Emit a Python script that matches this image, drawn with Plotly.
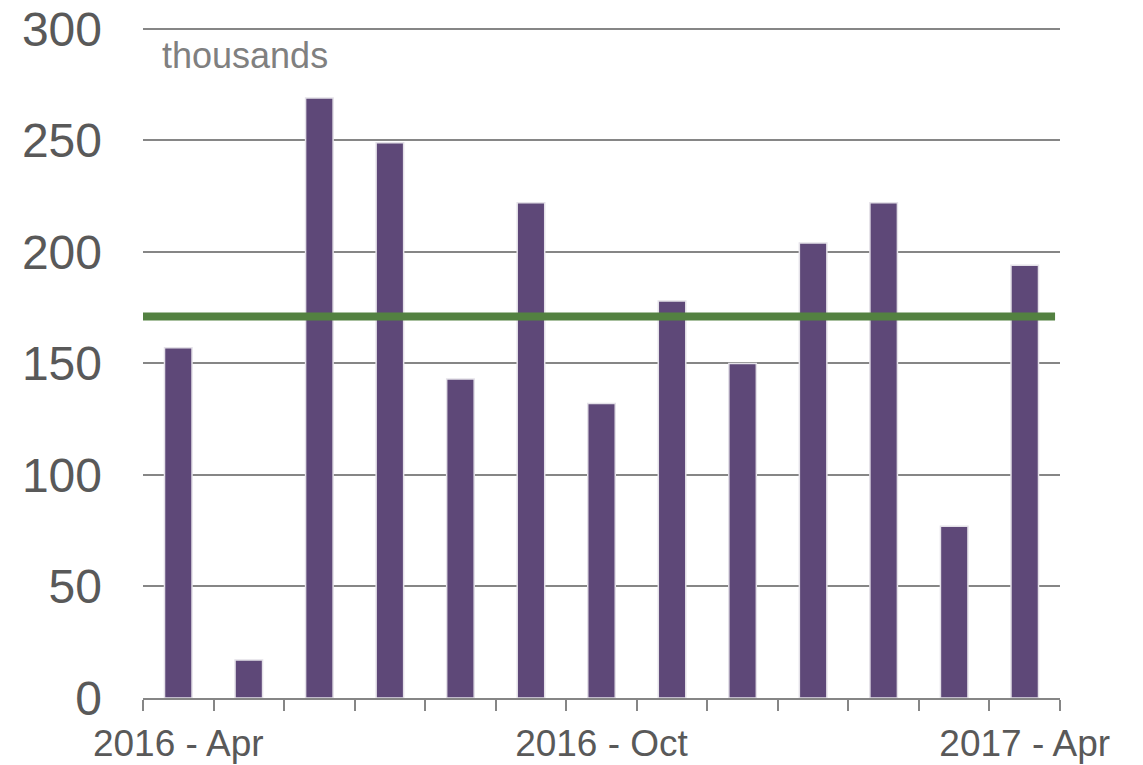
import plotly.graph_objects as go

months = ["2016 - Apr", "2016 - May", "2016 - Jun", "2016 - Jul", "2016 - Aug", "2016 - Sep",
          "2016 - Oct", "2016 - Nov", "2016 - Dec", "2017 - Jan", "2017 - Feb", "2017 - Mar", "2017 - Apr"]
values = [157, 17, 269, 249, 143, 222, 132, 178, 150, 204, 222, 77, 194]
average = 171
y_ticks = [0, 50, 100, 150, 200, 250, 300]
x_label_idx = [0, 6, 12]

xs = list(range(len(months)))

fig = go.Figure()
fig.add_trace(go.Bar(
    x=xs, y=values,
    marker=dict(color="#5e4878", line=dict(color="#e4e1e8", width=1.5)),
    width=0.39,
    hovertext=months,
))
fig.add_trace(go.Scatter(
    x=[-0.5, len(months) - 0.57], y=[average, average],
    mode="lines", line=dict(color="#538141", width=8),
))

fig.update_layout(
    width=1143, height=765,
    margin=dict(l=143, r=83, t=26, b=67),
    paper_bgcolor="white", plot_bgcolor="white",
    showlegend=False,
    font=dict(family="Liberation Sans, Arial", color="#595959"),
    xaxis=dict(
        automargin=False,
        range=[-0.5, len(months) - 0.5],
        tickvals=[xs[i] for i in x_label_idx],
        ticktext=[months[i] for i in x_label_idx],
        ticks="", showgrid=False, zeroline=False,
        showline=True, linecolor="#868686", linewidth=2,
        tickfont=dict(size=37, color="#595959"),
        ticklabelstandoff=12,
        ticklabeloverflow="allow",
        minor=dict(tick0=-0.5, dtick=1, ticks="outside", ticklen=11,
                   tickcolor="#868686", tickwidth=2, showgrid=False),
    ),
    yaxis=dict(
        automargin=False,
        range=[0, 301.3], tickvals=y_ticks,
        showgrid=True, gridcolor="#868686", gridwidth=2,
        zeroline=False, showline=False, ticks="",
        tickfont=dict(size=48, color="#595959"),
        ticklabelstandoff=40,
        ticklabeloverflow="allow",
    ),
    annotations=[dict(
        text="thousands", xref="paper", yref="paper", x=0.019, y=0.99,
        xanchor="left", yanchor="top", showarrow=False,
        font=dict(size=36, color="#808080"),
    )],
)

fig.write_html("out.html",
               config={"displayModeBar": False},
               post_script="document.body.style.margin='0';document.body.style.overflow='hidden';")
